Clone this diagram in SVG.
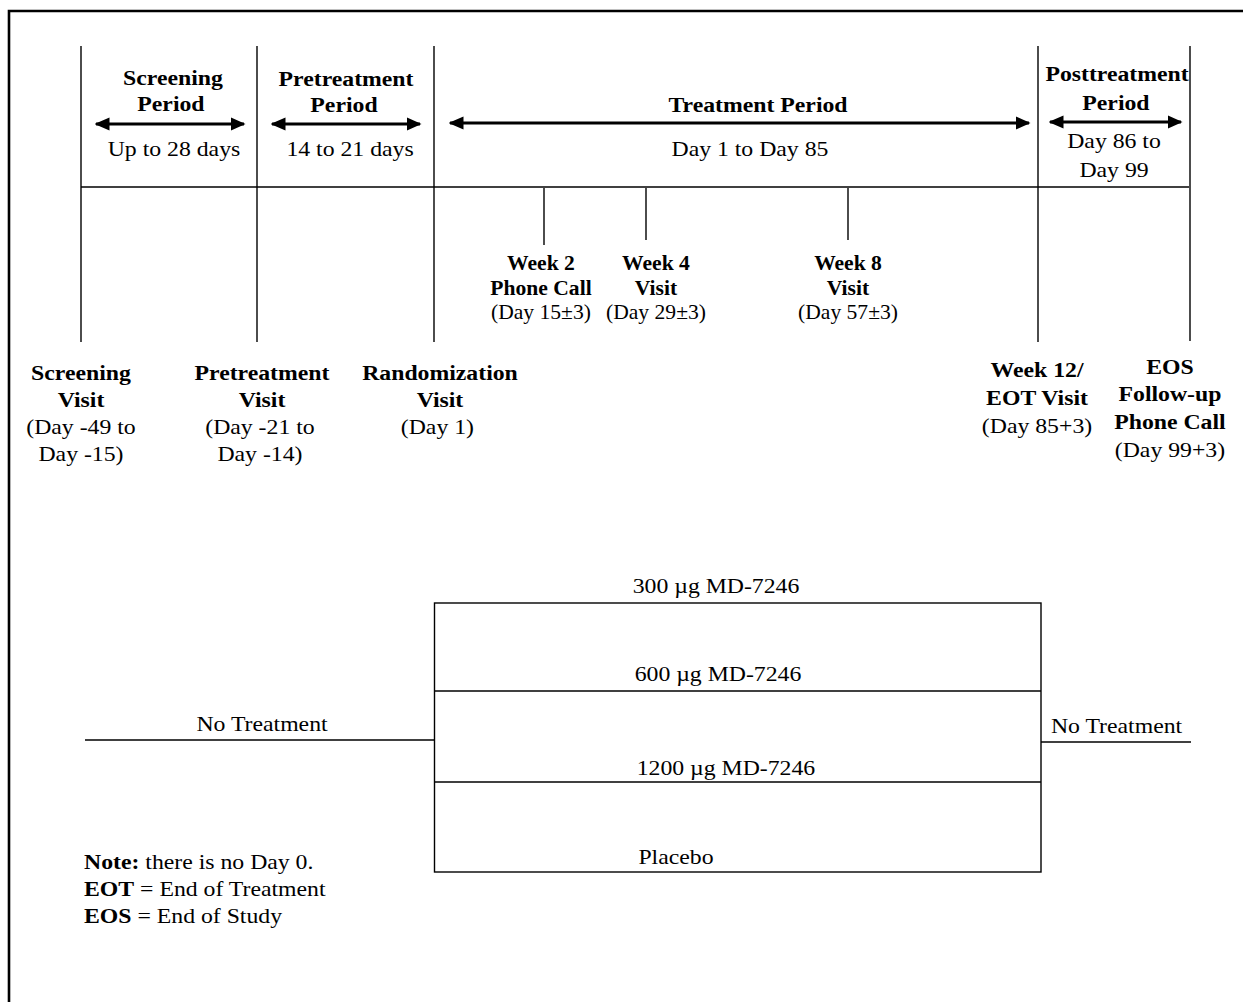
<svg xmlns="http://www.w3.org/2000/svg" width="1243" height="1002" viewBox="0 0 1243 1002">
<style>
.ln{stroke:#000;stroke-width:1.4;fill:none}
.ar{stroke:#000;stroke-width:3;fill:none;marker-start:url(#ah);marker-end:url(#ah)}
text{font-family:"Liberation Serif","Times New Roman",serif;fill:#000}
.b{font-weight:bold;font-size:22px;text-anchor:middle}
.r{font-size:22px;text-anchor:middle}
.bs{font-weight:bold;font-size:20px;text-anchor:middle}
.rs{font-size:20px;text-anchor:middle}
.l{font-size:22px}
</style>
<defs>
<marker id="ah" viewBox="0 0 10 10" refX="9" refY="5" markerWidth="5" markerHeight="4.4" orient="auto-start-reverse" markerUnits="strokeWidth" preserveAspectRatio="none">
<path d="M0,0 L10,5 L0,10 z" fill="#000"/>
</marker>
</defs>
<rect width="1243" height="1002" fill="#fff"/>
<path d="M9,1002 V11 H1243" stroke="#000" stroke-width="2.6" fill="none"/>

<g id="connectors">
<line class="ln" x1="81" y1="46" x2="81" y2="342"/>
<line class="ln" x1="257" y1="46" x2="257" y2="342"/>
<line class="ln" x1="434" y1="46" x2="434" y2="342"/>
<line class="ln" x1="1038" y1="46" x2="1038" y2="342"/>
<line class="ln" x1="1190" y1="46" x2="1190" y2="341"/>
<line class="ln" x1="81" y1="187" x2="1189" y2="187"/>
<line class="ln" x1="544" y1="188" x2="544" y2="245"/>
<line class="ln" x1="646" y1="188" x2="646" y2="240"/>
<line class="ln" x1="848" y1="188" x2="848" y2="240"/>
<line class="ar" x1="96" y1="124" x2="244" y2="124"/>
<line class="ar" x1="272" y1="124" x2="420" y2="124"/>
<line class="ar" x1="450" y1="123" x2="1029" y2="123"/>
<line class="ar" x1="1050" y1="122" x2="1181" y2="122"/>
<line class="ln" x1="85" y1="740" x2="434" y2="740"/>
<rect class="ln" x="434.5" y="603" width="606.5" height="269"/>
<line class="ln" x1="434" y1="691" x2="1041" y2="691"/>
<line class="ln" x1="434" y1="782" x2="1041" y2="782"/>
<line class="ln" x1="1041" y1="742" x2="1191" y2="742"/>
</g>

<g transform="scale(1.08 1)">
<g id="screening-period">
<text class="b" x="160.2" y="85">Screening</text>
<text class="b" x="158.3" y="111">Period</text>
<text class="r" x="161.1" y="156">Up to 28 days</text>
</g>
<g id="pretreatment-period">
<text class="b" x="320.4" y="86">Pretreatment</text>
<text class="b" x="318.5" y="112">Period</text>
<text class="r" x="324.1" y="156">14 to 21 days</text>
</g>
<g id="treatment-period">
<text class="b" x="701.9" y="112">Treatment Period</text>
<text class="r" x="694.4" y="156">Day 1 to Day 85</text>
</g>
<g id="posttreatment-period">
<text class="b" x="1034.3" y="81">Posttreatment</text>
<text class="b" x="1033.3" y="110">Period</text>
<text class="r" x="1031.5" y="148">Day 86 to</text>
<text class="r" x="1031.5" y="177">Day 99</text>
</g>
<g id="week2">
<text class="bs" x="500.9" y="270">Week 2</text>
<text class="bs" x="500.9" y="295">Phone Call</text>
<text class="rs" x="500.9" y="319">(Day 15±3)</text>
</g>
<g id="week4">
<text class="bs" x="607.4" y="270">Week 4</text>
<text class="bs" x="607.4" y="295">Visit</text>
<text class="rs" x="607.4" y="319">(Day 29±3)</text>
</g>
<g id="week8">
<text class="bs" x="785.2" y="270">Week 8</text>
<text class="bs" x="785.2" y="295">Visit</text>
<text class="rs" x="785.2" y="319">(Day 57±3)</text>
</g>
<g id="screening-visit">
<text class="b" x="75" y="380">Screening</text>
<text class="b" x="75" y="407">Visit</text>
<text class="r" x="75" y="434">(Day -49 to</text>
<text class="r" x="75" y="461">Day -15)</text>
</g>
<g id="pretreatment-visit">
<text class="b" x="242.6" y="380">Pretreatment</text>
<text class="b" x="242.6" y="407">Visit</text>
<text class="r" x="240.7" y="434">(Day -21 to</text>
<text class="r" x="240.7" y="461">Day -14)</text>
</g>
<g id="randomization-visit">
<text class="b" x="407.4" y="380">Randomization</text>
<text class="b" x="407.4" y="407">Visit</text>
<text class="r" x="405" y="434">(Day 1)</text>
</g>
<g id="week12-eot">
<text class="b" x="960.2" y="377">Week 12/</text>
<text class="b" x="960.2" y="405">EOT Visit</text>
<text class="r" x="960.2" y="433">(Day 85+3)</text>
</g>
<g id="eos-followup">
<text class="b" x="1083.3" y="374">EOS</text>
<text class="b" x="1083.3" y="401">Follow-up</text>
<text class="b" x="1083.3" y="429">Phone Call</text>
<text class="r" x="1083.3" y="457">(Day 99+3)</text>
</g>
<g id="arm-300">
<text class="r" x="663" y="593">300 µg MD-7246</text>
</g>
<g id="arm-600">
<text class="r" x="664.8" y="681">600 µg MD-7246</text>
</g>
<g id="arm-1200">
<text class="r" x="672.2" y="775">1200 µg MD-7246</text>
</g>
<g id="arm-placebo">
<text class="r" x="625.9" y="864">Placebo</text>
</g>
<g id="no-treatment-left">
<text class="r" x="242.6" y="731">No Treatment</text>
</g>
<g id="no-treatment-right">
<text class="l" x="973.1" y="733">No Treatment</text>
</g>
<g id="notes">
<text class="l" x="77.8" y="869"><tspan font-weight="bold">Note:</tspan> there is no Day 0.</text>
<text class="l" x="77.8" y="896"><tspan font-weight="bold">EOT</tspan> = End of Treatment</text>
<text class="l" x="77.8" y="923"><tspan font-weight="bold">EOS</tspan> = End of Study</text>
</g>
</g>
</svg>
